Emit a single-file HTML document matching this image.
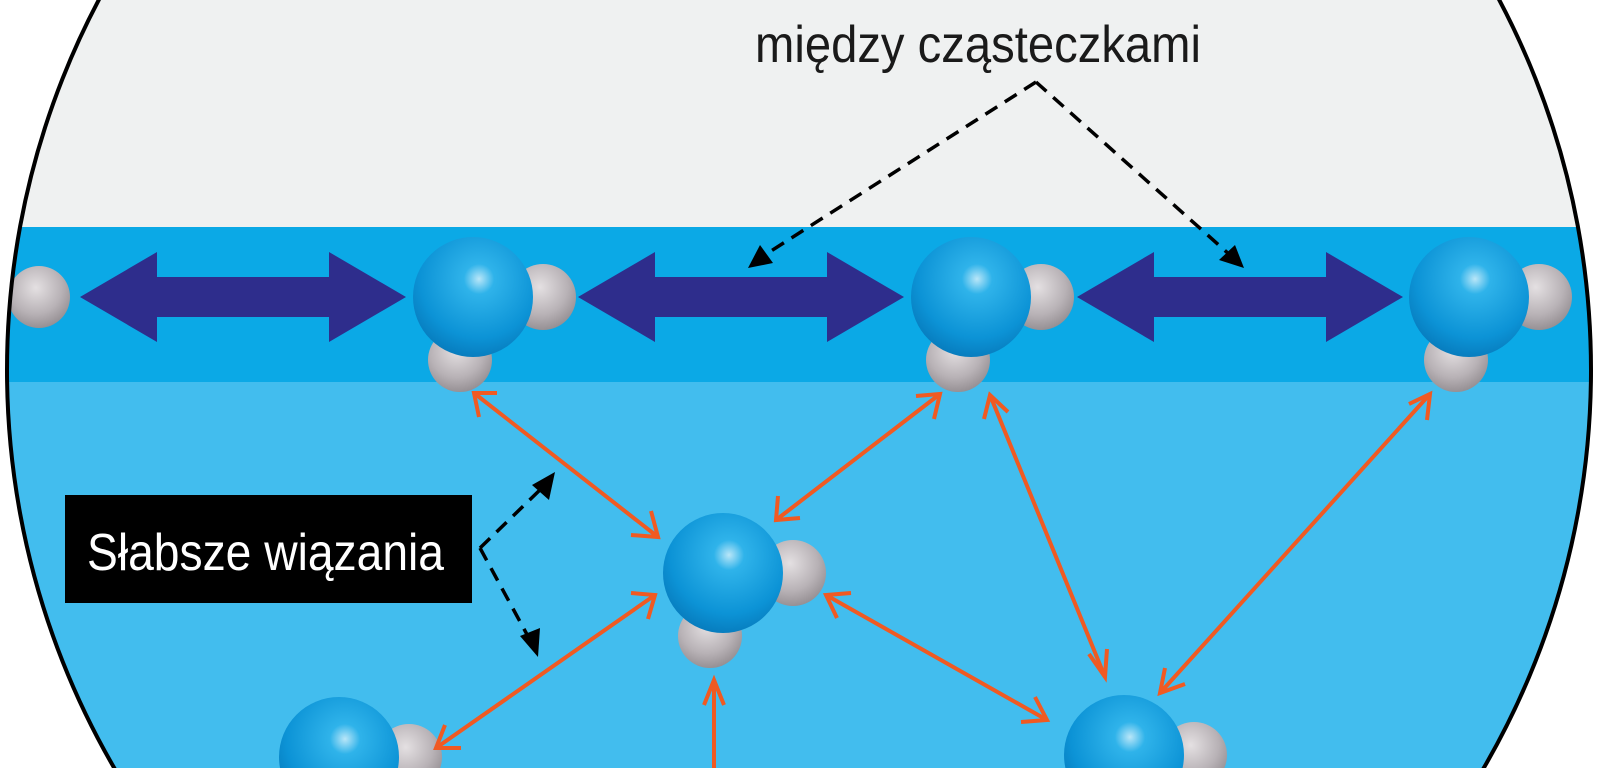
<!DOCTYPE html>
<html><head><meta charset="utf-8"><style>
html,body{margin:0;padding:0;background:#fff;width:1600px;height:768px;overflow:hidden}
svg{display:block}
text{font-family:"Liberation Sans",sans-serif}
</style></head><body>
<svg width="1600" height="768" viewBox="0 0 1600 768" xmlns="http://www.w3.org/2000/svg">
<defs>
<clipPath id="c"><circle cx="799" cy="370" r="792"/></clipPath>
<radialGradient id="o" cx="0.55" cy="0.35" r="0.7">
<stop offset="0" stop-color="#b9e6f8"/><stop offset="0.18" stop-color="#2fb3ea"/><stop offset="0.7" stop-color="#0c93d6"/><stop offset="1" stop-color="#0677b8"/></radialGradient>
<radialGradient id="h" cx="0.45" cy="0.35" r="0.7">
<stop offset="0" stop-color="#e4e0e2"/><stop offset="0.6" stop-color="#b8b2b6"/><stop offset="1" stop-color="#8f898d"/></radialGradient>
<g id="mol">
<circle cx="70" cy="0" r="33" fill="url(#h)"/>
<circle cx="-13" cy="63" r="32" fill="url(#h)"/>
<circle cx="0" cy="0" r="60" fill="url(#o)"/>
</g>
<polygon id="da" points="0,0 77,-45 77,-20 249,-20 249,-45 326,0 249,45 249,20 77,20 77,45" fill="#2e2d8c"/>
</defs>
<g clip-path="url(#c)">
<rect x="0" y="0" width="1600" height="768" fill="#eff1f1"/>
<rect x="0" y="227" width="1600" height="155" fill="#0ba9e6"/>
<rect x="0" y="382" width="1600" height="400" fill="#42bdee"/>
<circle cx="39" cy="297" r="31" fill="url(#h)"/>
<use href="#da" x="80" y="297"/>
<use href="#da" x="578" y="297"/>
<use href="#da" x="1077" y="297"/>
<use href="#mol" x="473" y="297"/>
<use href="#mol" x="971" y="297"/>
<use href="#mol" x="1469" y="297"/>
<use href="#mol" x="723" y="573"/>
<use href="#mol" x="339" y="757"/>
<use href="#mol" x="1124" y="755"/>
<g stroke="#f05a22" stroke-width="4" fill="none">
<path d="M474,393 L658,537"/><path d="M497,393 L474,393 L479,417"/><path d="M631,535 L658,537 L651,511"/>
<path d="M940,394 L776,520"/><path d="M916,396 L940,394 L934,419"/><path d="M778,496 L776,520 L800,518"/>
<path d="M990,395 L1105,677"/><path d="M984,419 L990,395 L1008,412"/><path d="M1089,654 L1105,677 L1107,649"/>
<path d="M1430,394 L1160,693"/><path d="M1409,404 L1430,394 L1427,420"/><path d="M1165,668 L1160,693 L1185,684"/>
<path d="M826,595 L1047,720"/><path d="M851,593 L826,595 L837,618"/><path d="M1035,697 L1047,720 L1021,722"/>
<path d="M655,595 L436,748"/><path d="M631,593 L655,595 L648,619"/><path d="M445,725 L436,748 L461,748"/>
<path d="M714,680 L714,780"/><path d="M704,705 L714,680 L724,705"/>
</g>
<g stroke="#000" stroke-width="3.5" fill="none" stroke-dasharray="14,9">
<path d="M1036,82 L760,258"/><path d="M1036,82 L1230,255"/>
<path d="M480,548 L545,485"/><path d="M480,548 L530,640"/>
</g>
<g fill="#000">
<polygon points="748,268 760,245 773,263"/>
<polygon points="1244,268 1219,260 1235,245"/>
<polygon points="555,472 549,500 532,485"/>
<polygon points="538,657 520,636 540,628"/>
</g>
<rect x="65" y="495" width="407" height="108" fill="#000"/>
<text x="87" y="570" font-size="52" fill="#fff" textLength="357" lengthAdjust="spacingAndGlyphs">Słabsze wiązania</text>
<text x="755" y="62" font-size="52" fill="#1a1a1a" textLength="446" lengthAdjust="spacingAndGlyphs">między cząsteczkami</text>
</g>
<circle cx="799" cy="370" r="792" fill="none" stroke="#000" stroke-width="4"/>
</svg>
</body></html>
